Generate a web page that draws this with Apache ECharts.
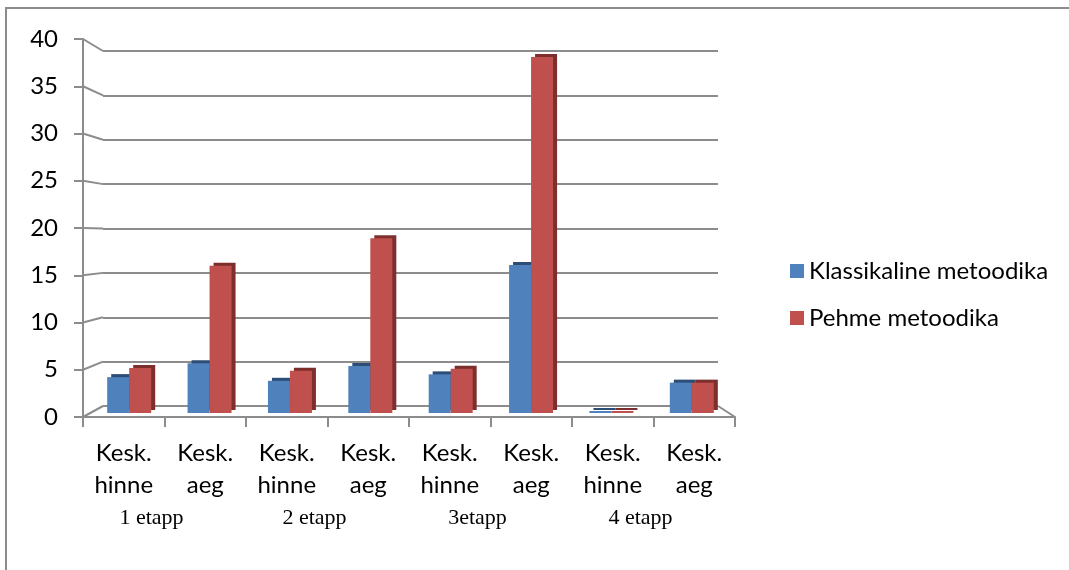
<!DOCTYPE html>
<html>
<head>
<meta charset="utf-8">
<script src="https://cdn.jsdelivr.net/npm/echarts@6/dist/echarts.min.js"></script>
<style>html,body{margin:0;padding:0;background:#fff}#c{width:1069px;height:570px}</style>
</head>
<body>
<div id="c"></div>
<script>
const categories = ['Kesk.\nhinne','Kesk.\naeg','Kesk.\nhinne','Kesk.\naeg','Kesk.\nhinne','Kesk.\naeg','Kesk.\nhinne','Kesk.\naeg'];
const stages = ['1 etapp','2 etapp','3etapp','4 etapp'];
const seriesNames = ['Klassikaline metoodika','Pehme metoodika'];
const klassikaline = [3.9, 5.4, 3.5, 5.1, 4.2, 16.1, 0, 3.3];
const pehme = [4.9, 16.0, 4.6, 19.0, 4.8, 38.7, 0, 3.3];
const yMin = 0, yMax = 40, yStep = 5;

const FONT = 'Lato';
const AX = '#8c8c8c';
const chart = echarts.init(document.getElementById('c'), null, {renderer:'canvas'});
const option = {
  animation: false,
  backgroundColor: '#fff',
  grid: [
    {left: 83, right: 334, top: 39, bottom: 153},   // front axes
    {left: 103, right: 351, top: 51, bottom: 164},  // back wall
    {left: 89, right: 337, top: 45, bottom: 157}    // bar plane
  ],
  legend: {
    orient: 'vertical', left: 785, top: 254,
    itemWidth: 14, itemHeight: 14, itemGap: 23, icon: 'rect',
    textStyle: {fontFamily: FONT, fontSize: 24, color: '#000', lineHeight: 24},
    data: seriesNames
  },
  xAxis: [
    {type: 'category', gridIndex: 0, data: categories,
     axisLine: {lineStyle: {color: AX, width: 2}},
     axisTick: {show: true, length: 10, lineStyle: {color: AX, width: 2}},
     axisLabel: {fontFamily: FONT, fontSize: 24, color: '#000', lineHeight: 32, margin: 20, interval: 0}},
    {type: 'category', gridIndex: 0, data: stages, position: 'bottom',
     axisLine: {show: false}, axisTick: {show: false},
     axisLabel: {fontFamily: 'Liberation Serif', fontSize: 22, color: '#000', margin: 90, padding: [0, 26, 0, 0]}},
    {type: 'category', gridIndex: 1, data: categories, show: false},
    {type: 'category', gridIndex: 2, data: categories, show: false}
  ],
  yAxis: [
    {type: 'value', gridIndex: 0, min: yMin, max: yMax, interval: yStep,
     axisLine: {show: true, lineStyle: {color: AX, width: 2}},
     axisTick: {show: true, length: 9, lineStyle: {color: AX, width: 2}},
     splitLine: {show: false},
     axisLabel: {fontFamily: FONT, fontSize: 24, color: '#000', margin: 25}},
    {type: 'value', gridIndex: 1, min: yMin, max: yMax, interval: yStep,
     axisLine: {show: false}, axisTick: {show: false}, axisLabel: {show: false},
     splitLine: {show: true, lineStyle: {color: AX, width: 2}}},
    {type: 'value', gridIndex: 2, min: yMin, max: yMax, show: false, splitLine: {show: false}}
  ],
  series: [
    {name: seriesNames[0], type: 'bar', xAxisIndex: 3, yAxisIndex: 2, data: klassikaline,
     barWidth: 22, barGap: '0%', barMinHeight: 2,
     itemStyle: {color: '#4F81BD', shadowColor: '#2c4d75', shadowOffsetX: 4, shadowOffsetY: -3, shadowBlur: 0}},
    {name: seriesNames[1], type: 'bar', xAxisIndex: 3, yAxisIndex: 2, data: pehme,
     barWidth: 22, barGap: '0%', barMinHeight: 2,
     itemStyle: {color: '#C0504D', shadowColor: '#7d2f2d', shadowOffsetX: 4, shadowOffsetY: -3, shadowBlur: 0}}
  ]
};
chart.setOption(option);

// wall connectors between front axis ticks and back wall gridlines
const g = [{type: 'rect', shape: {x: 6, y: 8, width: 1200, height: 700}, style: {fill: null, stroke: AX, lineWidth: 2}, silent: true, z: -1}];
for (let v = yMin; v <= yMax; v += yStep) {
  const fx = chart.convertToPixel({yAxisIndex: 0}, v);
  const bx = chart.convertToPixel({yAxisIndex: 1}, v);
  g.push({type: 'line', shape: {x1: 83, y1: fx, x2: 103, y2: bx}, style: {stroke: AX, lineWidth: 2}, silent: true});
}
const f0 = chart.convertToPixel({yAxisIndex: 0}, yMin);
const b0 = chart.convertToPixel({yAxisIndex: 1}, yMin);
g.push({type: 'line', shape: {x1: 1069 - 351, y1: b0, x2: 1069 - 334, y2: f0}, style: {stroke: AX, lineWidth: 2}, silent: true});
chart.setOption({graphic: g});
</script>
</body>
</html>
